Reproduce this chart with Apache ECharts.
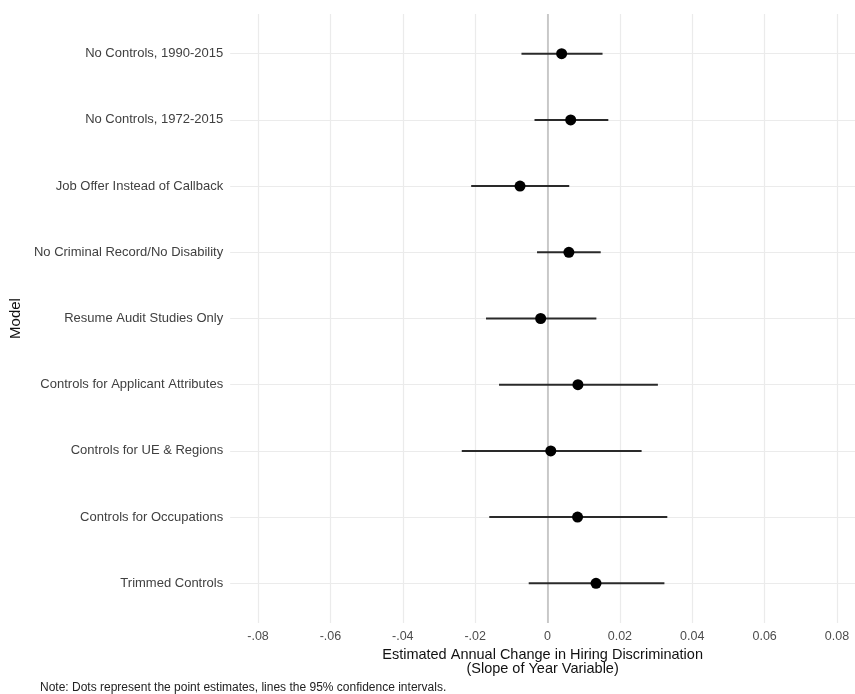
<!DOCTYPE html>
<html>
<head>
<meta charset="utf-8">
<script src="https://cdn.jsdelivr.net/npm/echarts@6/dist/echarts.min.js"></script>
<style>html,body{margin:0;padding:0;background:#fff}#c{width:855px;height:694px}</style>
</head>
<body>
<div id="c"></div>
<script>
const categories = [
  "No Controls, 1990-2015",
  "No Controls, 1972-2015",
  "Job Offer Instead of Callback",
  "No Criminal Record/No Disability",
  "Resume Audit Studies Only",
  "Controls for Applicant Attributes",
  "Controls for UE & Regions",
  "Controls for Occupations",
  "Trimmed Controls"
];
const estimates = [0.0039, 0.0064, -0.0076, 0.0059, -0.0019, 0.0084, 0.0009, 0.0083, 0.0134];
const lower = [-0.0072, -0.0036, -0.0211, -0.0029, -0.0170, -0.0134, -0.0237, -0.0161, -0.0052];
const upper = [0.0152, 0.0168, 0.0060, 0.0147, 0.0135, 0.0305, 0.0260, 0.0331, 0.0323];
const xTicks = [-0.08, -0.06, -0.04, -0.02, 0, 0.02, 0.04, 0.06, 0.08];
const xTickLabels = ["-.08", "-.06", "-.04", "-.02", "0", "0.02", "0.04", "0.06", "0.08"];
const yPositions = categories.map((c, i) => i + 1);

const chart = echarts.init(document.getElementById('c'));
const font = 'Liberation Sans, Arial, sans-serif';

const option = {
  animation: false,
  textStyle: { fontFamily: font },
  grid: { left: 229, top: 14, right: 0, height: 609, containLabel: false },
  xAxis: {
    type: 'value',
    min: -0.0877, max: 0.08497,
    axisLine: { show: false },
    axisTick: { show: false, customValues: xTicks },
    axisLabel: {
      customValues: xTicks,
      formatter: v => { const i = xTicks.findIndex(t => Math.abs(t - v) < 1e-9); return i >= 0 ? xTickLabels[i] : ''; },
      color: '#4d4d4d', fontSize: 12.5, margin: 7, fontFamily: font
    },
    splitLine: { show: true, lineStyle: { color: '#ebebeb', width: 1.2 } },
    name: 'Estimated Annual Change in Hiring Discrimination\n(Slope of Year Variable)',
    nameLocation: 'middle', nameGap: 23,
    nameTextStyle: { color: '#111', fontSize: 14.5, lineHeight: 14, verticalAlign: 'top', fontFamily: font }
  },
  yAxis: {
    type: 'value',
    inverse: true,
    min: 0.4, max: 9.6,
    axisLine: { show: false },
    axisTick: { show: false, customValues: yPositions },
    axisLabel: {
      customValues: yPositions,
      formatter: v => categories[Math.round(v) - 1] || '',
      color: '#404040', fontSize: 13, margin: 7, fontFamily: font
    },
    splitLine: { show: true, lineStyle: { color: '#ebebeb', width: 1.2 } },
    name: 'Model', nameLocation: 'middle', nameGap: 205, nameRotate: 90,
    nameTextStyle: { color: '#111', fontSize: 15, fontFamily: font }
  },
  graphic: [{
    type: 'text', left: 40, top: 682,
    style: { text: 'Note: Dots represent the point estimates, lines the 95% confidence intervals.', fontSize: 12, fill: '#222', fontFamily: font }
  }],
  series: [
    {
      type: 'line',
      z: 1,
      data: [],
      markLine: {
        z: 1,
        silent: true, symbol: 'none', label: { show: false },
        lineStyle: { color: '#bdbdbd', width: 1.5, type: 'solid' },
        data: [{ xAxis: 0 }]
      }
    },
    {
      type: 'custom',
      z: 3,
      renderItem: function (params, api) {
        const y = api.value(2);
        const p1 = api.coord([api.value(0), y]);
        const p2 = api.coord([api.value(1), y]);
        return { type: 'line', shape: { x1: p1[0], y1: p1[1], x2: p2[0], y2: p2[1] }, style: { stroke: '#2a2a2a', lineWidth: 2 } };
      },
      data: categories.map((c, i) => [lower[i], upper[i], yPositions[i]]),
      encode: { x: [0, 1], y: 2 }
    },
    {
      type: 'scatter',
      z: 4,
      symbol: 'circle', symbolSize: 11,
      itemStyle: { color: '#000', opacity: 1 },
      data: categories.map((c, i) => [estimates[i], yPositions[i]])
    }
  ]
};
chart.setOption(option);
</script>
</body>
</html>
